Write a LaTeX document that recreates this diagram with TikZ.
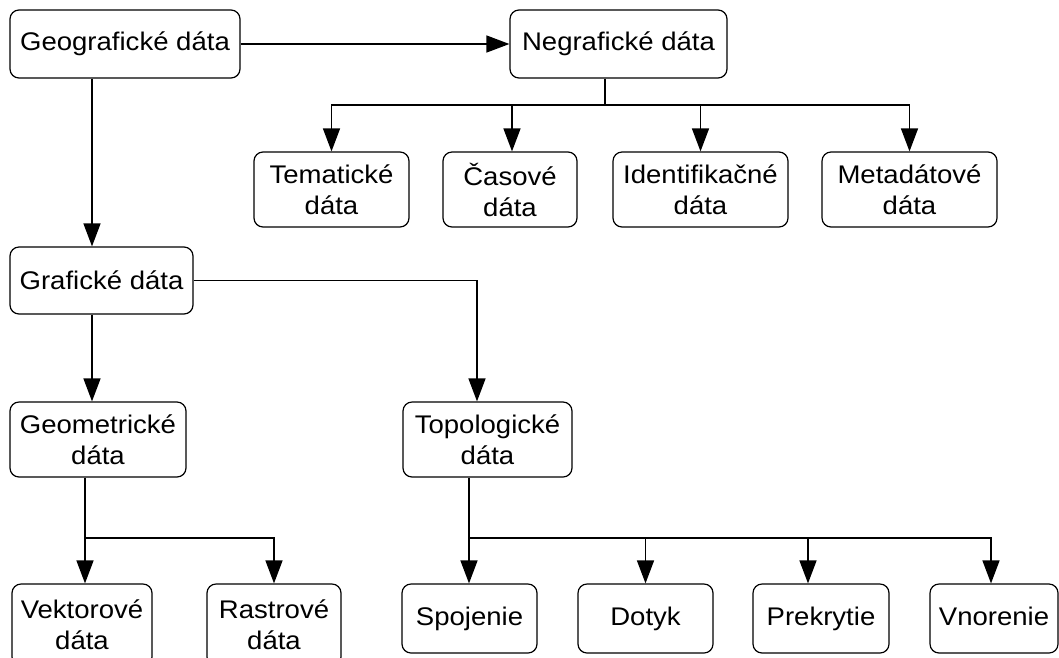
\documentclass[tikz,border=0pt]{standalone}
\usepackage{fontspec}
\setmainfont{Liberation Sans}[FakeStretch=1.08]
\usetikzlibrary{arrows.meta,calc}
\begin{document}
\begin{tikzpicture}[x=1pt,y=-1pt,
  box/.style={draw=black, line width=1.2pt, rounded corners=9pt, inner sep=0pt,
    align=center, font=\fontsize{25.5}{31}\selectfont, fill=white},
  conn/.style={draw=black, line width=1.4pt},
  arr/.style={conn, -{Triangle[length=23pt,width=17pt]}}
]
\useasboundingbox (0,0) rectangle (1059,657);
\fill[white] (0,0) rectangle (1059,657);

% nodes
\node[box, minimum width=230pt, minimum height=68pt] (geo) at (125,44) {Geografické dáta};
\node[box, minimum width=217pt, minimum height=68pt] (neg) at (618.5,44) {Negrafické dáta};

\node[box, minimum width=155pt, minimum height=75pt] (tem) at (331.5,189.5) {Tematické\\dáta};
\node[box, minimum width=134pt, minimum height=75pt] (cas) at (510,189.5) {Časové\\dáta};
\node[box, minimum width=175pt, minimum height=75pt] (idf) at (700.5,189.5) {Identifikačné\\dáta};
\node[box, minimum width=175pt, minimum height=75pt] (met) at (909.5,189.5) {Metadátové\\dáta};

\node[box, minimum width=183pt, minimum height=67pt] (gra) at (101.5,280.5) {Grafické dáta};
\node[box, minimum width=176pt, minimum height=75pt] (geom) at (98,439.5) {Geometrické\\dáta};
\node[box, minimum width=169pt, minimum height=75pt] (top) at (487.5,439.5) {Topologické\\dáta};

\node[box, minimum width=140pt, minimum height=82pt] (vek) at (82,625) {Vektorové\\dáta};
\node[box, minimum width=134pt, minimum height=82pt] (ras) at (274,625) {Rastrové\\dáta};

\node[box, minimum width=135pt, minimum height=69pt, text height=18pt, text depth=5pt] (spo) at (469.5,618.5) {Spojenie};
\node[box, minimum width=135pt, minimum height=69pt, text height=18pt, text depth=5pt] (dot) at (645.5,618.5) {Dotyk};
\node[box, minimum width=136pt, minimum height=69pt, text height=18pt, text depth=5pt] (pre) at (821,618.5) {Prekrytie};
\node[box, minimum width=128pt, minimum height=69pt, text height=18pt, text depth=5pt] (vno) at (994,618.5) {Vnorenie};

% helper coordinates
\coordinate (nb) at (605,105);
\coordinate (gx) at (92,0);
\coordinate (tx) at (477,0);
\coordinate (gmx) at (85,538);
\coordinate (tpx) at (469,538);
\coordinate (prx) at (808,0);
\coordinate (vnx) at (991,0);
\coordinate (csx) at (512,0);

% connectors
\draw[arr] (geo.east) -- (neg.west);
\draw[arr] (geo.south -| gx) -- (gra.north -| gx);

\draw[conn] (neg.south -| nb) -- (nb);
\draw[arr] (nb) -| (tem.north);
\draw[arr] (nb) -| (cas.north -| csx);
\draw[arr] (nb) -| (idf.north);
\draw[arr] (nb) -| (met.north);

\draw[arr] (gra.south -| gx) -- (geom.north -| gx);
\draw[arr] (gra.east) -| (top.north -| tx);

\draw[arr] (geom.south -| gmx) -- (vek.north -| gmx);
\draw[arr] (gmx) -| (ras.north);

\draw[arr] (top.south -| tpx) -- (spo.north -| tpx);
\draw[arr] (tpx) -| (dot.north);
\draw[arr] (tpx) -| (pre.north -| prx);
\draw[arr] (tpx) -| (vno.north -| vnx);
\end{tikzpicture}
\end{document}
